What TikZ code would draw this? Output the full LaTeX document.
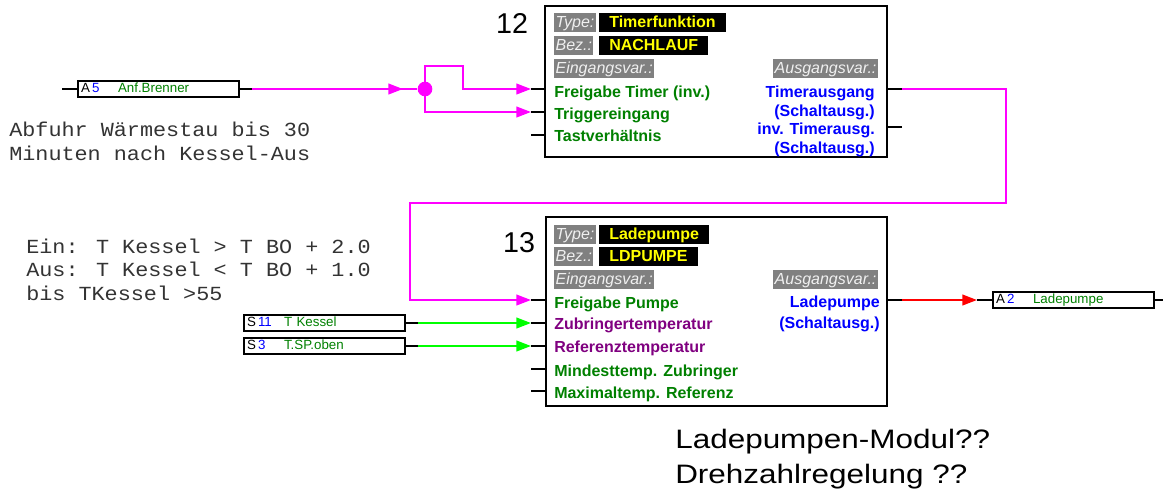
\documentclass[tikz,border=0pt]{standalone}
\usepackage{fontspec}
\setmainfont{Liberation Sans}
\newfontfamily\notefont[FakeStretch=1.09]{Liberation Mono}
\newfontfamily\widefont[FakeStretch=1.18]{Liberation Sans}
\usetikzlibrary{arrows.meta,positioning,calc}

\definecolor{wmag}{RGB}{255,0,255}
\definecolor{wgreen}{RGB}{0,255,0}
\definecolor{wred}{RGB}{255,0,0}
\definecolor{tgreen}{RGB}{0,128,0}
\definecolor{tpurple}{RGB}{128,0,128}
\definecolor{tblue}{RGB}{0,0,255}
\definecolor{tyellow}{RGB}{255,255,0}
\definecolor{lblgray}{RGB}{128,128,128}

\newcommand{\iotext}[3]{\makebox[8.25pt][l]{#1}\makebox[19.5pt][l]{\color{tblue}#2}\color{tgreen}#3}

\begin{document}
\begin{tikzpicture}[
  x=0.75pt, y=-0.75pt,
  font=\fontsize{12}{14}\selectfont,
  >={Triangle[length=11pt,width=8pt]},
  block/.style={
    draw,
    line width=1.5pt,
    inner sep=0pt,
    fill=white
  },
  pin/.style={line width=1.5pt},
  wire/.style={line width=1.5pt},
  io/.style={
    draw,
    line width=1.5pt,
    anchor=west,
    text width=116.25pt,
    align=left,
    inner xsep=2.25pt,
    inner ysep=1.125pt,
    text height=7.5pt,
    text depth=2.25pt,
    font=\fontsize{10}{12}\selectfont
  },
  lbl/.style={
    fill=lblgray,
    text=gray!12,
    anchor=west,
    font=\fontsize{12}{14}\selectfont\itshape,
    inner xsep=1pt,
    inner ysep=1pt,
    text height=9.5pt,
    text depth=2.75pt
  },
  val/.style={
    fill=black,
    text=tyellow,
    anchor=west,
    font=\fontsize{12}{14}\selectfont\bfseries,
    inner xsep=7.5pt,
    inner ysep=1pt,
    text height=9.5pt,
    text depth=2.75pt
  },
  inl/.style={
    anchor=base west,
    inner sep=0pt,
    text=tgreen,
    font=\fontsize{12}{14}\selectfont\bfseries
  },
  outl/.style={
    anchor=base east,
    inner sep=0pt,
    text=tblue,
    font=\fontsize{12}{14}\selectfont\bfseries
  },
  num/.style={
    inner sep=0pt,
    font=\fontsize{21.5}{24}\selectfont
  },
  dot/.style={
    circle,
    fill=wmag,
    minimum size=11pt,
    inner sep=0pt
  },
  note/.style={
    anchor=base west,
    align=left,
    inner sep=0pt,
    text=black!80,
    font=\notefont\fontsize{15}{17.6}\selectfont
  },
  big/.style={
    anchor=base west,
    align=left,
    inner sep=0pt,
    font=\widefont\fontsize{20}{26.25}\selectfont
  }
]

\useasboundingbox (0,0) rectangle (1167,494);

% block 12
\node[block, minimum width=256.5pt, minimum height=113.25pt] (b12) at (716,81.5) {};
\node[num] (n12) at (512,23) {12};

\node[lbl] (b12t) at (554,22.5) {Type:};
\node[val] (b12tv) at (599,22.5) {Timerfunktion};
\node[lbl] (b12b) at (554,45.5) {Bez.:};
\node[val] (b12bv) at (599,45.5) {NACHLAUF};
\node[lbl] (b12e) at (554,68.5) {Eingangsvar.:};
\node[lbl, anchor=east] (b12a) at (878,68.5) {Ausgangsvar.:};

\node[inl] (b12l1) at (554,97) {Freigabe Timer (inv.)};
\node[inl] (b12l2) at (554,119) {Triggereingang};
\node[inl] (b12l3) at (554,141) {Tastverhältnis};
\node[outl] (b12r1) at (875,97) {Timerausgang};
\node[outl] (b12r2) at (875,116) {(Schaltausg.)};
\node[outl] (b12r3) at (875,134) {inv. Timerausg.};
\node[outl] (b12r4) at (875,153) {(Schaltausg.)};

\foreach \y [count=\i] in {89,112,135} {
  \coordinate (b12i\i) at (531,\y);
  \draw[pin] (b12i\i) -- (b12i\i -| b12.west);
}
\foreach \y [count=\i] in {89,127} {
  \coordinate (b12o\i) at (902,\y);
  \draw[pin] (b12o\i) -- (b12o\i -| b12.east);
}

% block 13
\node[block, minimum width=255.75pt, minimum height=141.75pt] (b13) at (716.5,311.5) {};
\node[num] (n13) at (519,243) {13};

\node[lbl] (b13t) at (554,234.5) {Type:};
\node[val] (b13tv) at (599,234.5) {Ladepumpe};
\node[lbl] (b13b) at (554,256.5) {Bez.:};
\node[val] (b13bv) at (599,256.5) {LDPUMPE};
\node[lbl] (b13e) at (554,279.5) {Eingangsvar.:};
\node[lbl, anchor=east] (b13a) at (878,279.5) {Ausgangsvar.:};

\node[inl] (b13l1) at (554,308) {Freigabe Pumpe};
\node[inl, text=tpurple] (b13l2) at (554,329) {Zubringertemperatur};
\node[inl, text=tpurple] (b13l3) at (554,352) {Referenztemperatur};
\node[inl] (b13l4) at (554,376) {Mindesttemp. Zubringer};
\node[inl] (b13l5) at (554,398) {Maximaltemp. Referenz};
\node[outl] (b13r1) at (880,307) {Ladepumpe};
\node[outl] (b13r2) at (880,328) {(Schaltausg.)};

\foreach \y [count=\i] in {300,323,346,369,391} {
  \coordinate (b13i\i) at (531,\y);
  \draw[pin] (b13i\i) -- (b13i\i -| b13.west);
}
\coordinate (b13o1) at (902,300);
\draw[pin] (b13o1) -- (b13o1 -| b13.east);

% in/out boxes
\node[io] (a5) at (77,89) {\iotext{A}{5}{Anf.Brenner}};
\coordinate (a5i) at (62,89);
\coordinate (a5o) at (252,89);
\draw[pin] (a5i) -- (a5);
\draw[pin] (a5) -- (a5o);

\node[io] (s11) at (243,323) {\iotext{S}{11}{T Kessel}};
\coordinate (s11o) at (418,323);
\draw[pin] (s11) -- (s11o);

\node[io] (s3) at (243,346) {\iotext{S}{3}{T.SP.oben}};
\coordinate (s3o) at (418,346);
\draw[pin] (s3) -- (s3o);

\node[io] (a2) at (992,300) {\iotext{A}{2}{Ladepumpe}};
\coordinate (a2i) at (977,300);
\coordinate (a2o) at (1163,300);
\draw[pin] (a2i) -- (a2);
\draw[pin] (a2) -- (a2o);

% wires
\node[dot] (jn) at (425,89) {};
\draw[wire, wmag] (a5o) -- (jn);
\draw[wire, wmag, ->, shorten >=16.5pt] (a5o) -- (jn.center);
\draw[wire, wmag, ->] (jn.center) -- (425,66) -| (463,89) -- (b12i1);
\draw[wire, wmag, ->] (jn.center) |- (b12i2);
\draw[wire, wmag, ->] (b12o1) -| (1006,203) -| (410,300) -- (b13i1);
\draw[wire, wgreen, ->] (s11o) -- (b13i2);
\draw[wire, wgreen, ->] (s3o) -- (b13i3);
\draw[wire, wred, ->] (b13o1) -- (a2i);

% notes (base = last line)
\node[note] (abfuhr) at (9,160) {Abfuhr Wärmestau bis 30\\Minuten nach Kessel-Aus};
\node[note] (einaus) at (26,300) {Ein: T Kessel > T BO + 2.0\\Aus: T Kessel < T BO + 1.0\\bis TKessel >55};
\node[big] (todo) at (675,483) {Ladepumpen-Modul??\\Drehzahlregelung ??};

\end{tikzpicture}
\end{document}
